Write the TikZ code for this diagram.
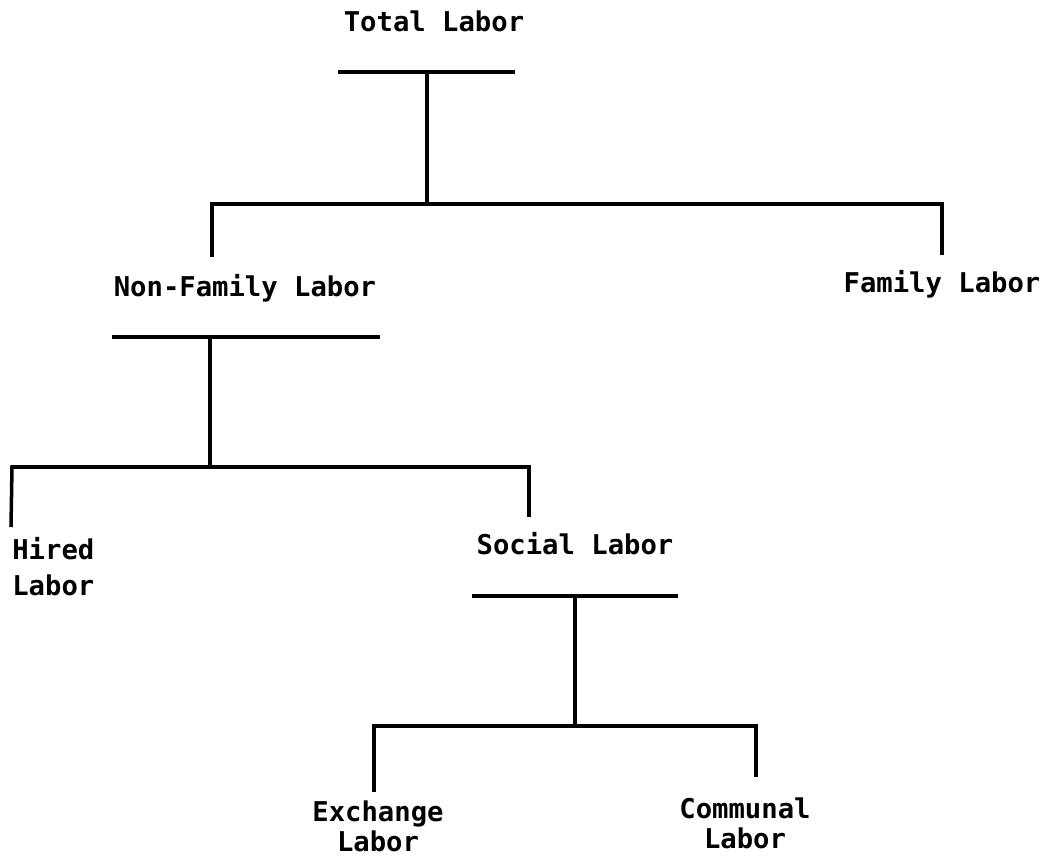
\documentclass[tikz,border=0pt]{standalone}
\usepackage{fontspec}
\setmonofont{DejaVu Sans Mono}
\usetikzlibrary{positioning}

\begin{document}
\begin{tikzpicture}[x=0.02cm,y=-0.02cm,
  lbl/.style={font=\ttfamily\bfseries\fontsize{15.5}{17.5}\selectfont,inner sep=0pt},
  ln/.style={line width=2pt}]
\useasboundingbox (0,0) rectangle (1046,858);

\node[lbl,anchor=base] (tot) at (434,32) {Total Labor};
\node[lbl,anchor=base] (nfam) at (245,297) {Non-Family Labor};
\node[lbl,anchor=base] (fam) at (942,293) {Family Labor};
\node[lbl,anchor=north west,align=left] (hir) at (12,537) {Hired\\[3pt]Labor};
\node[lbl,anchor=base] (soc) at (575,555) {Social Labor};
\node[lbl,anchor=north,align=center] (exc) at (378,800) {Exchange\\Labor};
\node[lbl,anchor=north,align=center] (com) at (745,797) {Communal\\Labor};

% total labor
\coordinate (t0) at (338,72);
\coordinate (t1) at (515,72);
\coordinate (t2) at (427,72);
\coordinate (t3) at (427,204);
\coordinate (t4) at (212,204);
\coordinate (t5) at (942,204);
\coordinate (t6) at (212,257);
\coordinate (t7) at (942,255);

\draw[ln] (t0)--(t1);
\draw[ln] (t2)--(t3);
\draw[ln] (t6)--(t4)--(t5)--(t7);

% non-family labor
\coordinate (n0) at (112,337);
\coordinate (n1) at (380,337);
\coordinate (n2) at (210,337);
\coordinate (n3) at (210,467);
\coordinate (n4) at (12,467);
\coordinate (n5) at (529,467);
\coordinate (n6) at (11,527);
\coordinate (n7) at (529,517);

\draw[ln] (n0)--(n1);
\draw[ln] (n2)--(n3);
\draw[ln] (n6)--(n4)--(n5)--(n7);

% social labor
\coordinate (s0) at (472,596);
\coordinate (s1) at (678,596);
\coordinate (s2) at (575,596);
\coordinate (s3) at (575,726);
\coordinate (s4) at (374,726);
\coordinate (s5) at (756,726);
\coordinate (s6) at (374,792);
\coordinate (s7) at (756,777);

\draw[ln] (s0)--(s1);
\draw[ln] (s2)--(s3);
\draw[ln] (s6)--(s4)--(s5)--(s7);
\end{tikzpicture}
\end{document}
